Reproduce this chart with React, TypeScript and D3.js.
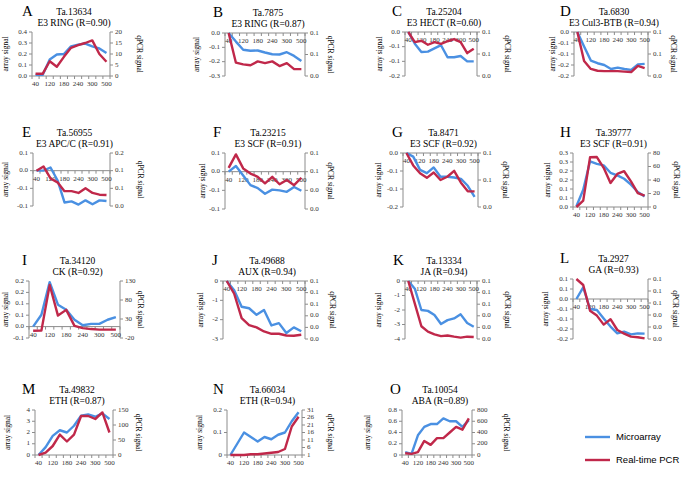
import React from 'react';
import * as d3 from 'd3';

// hours after treatment (only every other label is printed on the axis)
const categories = ['40', '80', '120', '150', '180', '210', '240', '270', '300', '400', '500'];

const letters = ['A', 'B', 'C', 'D', 'E', 'F', 'G', 'H', 'I', 'J', 'K', 'L', 'M', 'N', 'O'];
const genes = ['Ta.13634', 'Ta.7875', 'Ta.25204', 'Ta.6830', 'Ta.56955', 'Ta.23215', 'Ta.8471', 'Ta.39777',
  'Ta.34120', 'Ta.49688', 'Ta.13334', 'Ta.2927', 'Ta.49832', 'Ta.66034', 'Ta.10054'];
const subtitles = ['E3 RING (R=0.90)', 'E3 RING (R=0.87)', 'E3 HECT (R=0.60)', 'E3 Cul3-BTB (R=0.94)',
  'E3 APC/C (R=0.91)', 'E3 SCF (R=0.91)', 'E3 SCF (R=0.92)', 'E3 SCF (R=0.91)',
  'CK (R=0.92)', 'AUX (R=0.94)', 'JA (R=0.94)', 'GA (R=0.93)',
  'ETH (R=0.87)', 'ETH (R=0.94)', 'ABA (R=0.89)'];

// microarray signal (left axis)
const arrayA = [0.01, 0.01, 0.15, 0.195, 0.2, 0.27, 0.285, 0.295, 0.27, 0.25, 0.21];
const arrayB = [0, -0.06, -0.117, -0.124, -0.122, -0.136, -0.148, -0.15, -0.134, -0.16, -0.195];
const arrayC = [0, -0.04, -0.068, -0.067, -0.056, -0.045, -0.086, -0.086, -0.082, -0.1, -0.1];
const arrayD = [0, -0.066, -0.13, -0.142, -0.15, -0.168, -0.162, -0.168, -0.172, -0.147, -0.145];
const arrayE = [0, 0, 0.009, -0.027, -0.09, -0.087, -0.096, -0.084, -0.095, -0.084, -0.086];
const arrayF = [0, 0.015, -0.01, -0.036, -0.044, -0.059, -0.048, -0.05, -0.054, -0.041, -0.051];
const arrayG = [0, -0.01, -0.047, -0.056, -0.04, -0.066, -0.066, -0.068, -0.072, -0.091, -0.122];
const arrayH = [0.004, 0.096, 0.254, 0.24, 0.231, 0.19, 0.176, 0.157, 0.124, 0.083, 0.059];
const arrayI = [0, 0.052, 0.195, 0.096, 0.074, 0.03, 0.006, 0.012, 0.012, 0.03, 0.042];
const arrayJ = [0, -0.48, -1.33, -1.41, -1.75, -1.5, -2.3, -2.18, -2.69, -2.4, -2.6];
const arrayK = [0, -0.53, -2.0, -2.06, -2.35, -2.97, -2.7, -2.58, -2.3, -2.9, -3.15];
const arrayL = [0, 0.058, -0.05, -0.055, -0.097, -0.138, -0.172, -0.163, -0.177, -0.172, -0.173];
const arrayM = [0, 0.7, 1.7, 2.2, 2.0, 2.6, 3.5, 3.6, 3.4, 3.7, 3.2];
const arrayN = [0, 0.05, 0.1, 0.08, 0.06, 0.08, 0.07, 0.09, 0.1, 0.15, 0.19];
const arrayO = [0.05, 0.02, 0.35, 0.5, 0.55, 0.55, 0.65, 0.6, 0.6, 0.5, 0.62];

// real-time PCR signal (right axis)
const qpcrA = [1, 1, 6.7, 4.2, 8.7, 12.8, 14, 15, 16.2, 10, 6.5];
const qpcrB = [0.1, 0.031, 0.027, 0.025, 0.034, 0.03, 0.034, 0.023, 0.03, 0.016, 0.016];
const qpcrC = [0.1, 0.077, 0.08, 0.071, 0.077, 0.073, 0.079, 0.084, 0.077, 0.052, 0.062];
const qpcrD = [0.1, 0.034, 0.016, 0.012, 0.011, 0.011, 0.011, 0.01, 0.009, 0.023, 0.018];
const qpcrE = [0.1, 0.112, 0.078, 0.067, 0.042, 0.042, 0.037, 0.05, 0.037, 0.032, 0.031];
const qpcrF = [0.088, 0.117, 0.087, 0.076, 0.069, 0.055, 0.069, 0.053, 0.062, 0.051, 0.067];
const qpcrG = [0.1, 0.077, 0.0625, 0.054, 0.064, 0.05, 0.056, 0.067, 0.045, 0.029, 0.029];
const qpcrH = [0, 9.4, 73.6, 74, 58, 35.6, 49, 53, 38, 20.7, 16.8];
const qpcrI = [-1, -0.5, 119.5, 39, 54, 12, 6, 3.5, 2, 2, 2];
const qpcrJ = [0.1, 0.078, 0.036, 0.024, 0.02, 0.013, 0.009, 0.009, 0.006, 0.0057, 0.0074];
const qpcrK = [0.1, 0.061, 0.022, 0.0126, 0.008, 0.005, 0.006, 0.004, 0.0023, 0.004, 0.0034];
const qpcrL = [0.1, 0.09, 0.047, 0.039, 0.024, 0.033, 0.015, 0.009, 0.004, 0.003, 0.001];
const qpcrM = [0, 8, 30, 68, 45, 68, 130, 130, 120, 142, 75];
const qpcrN = [1, 1, 1, 1.5, 1.5, 2, 2.5, 3, 5, 20, 26.5];
const qpcrO = [30, 20, 50, 250, 180, 300, 300, 400, 500, 450, 650];

const arraySeries = [arrayA, arrayB, arrayC, arrayD, arrayE, arrayF, arrayG, arrayH, arrayI, arrayJ, arrayK, arrayL, arrayM, arrayN, arrayO];
const qpcrSeries = [qpcrA, qpcrB, qpcrC, qpcrD, qpcrE, qpcrF, qpcrG, qpcrH, qpcrI, qpcrJ, qpcrK, qpcrL, qpcrM, qpcrN, qpcrO];

// axis ticks: [min, max, step, decimals]  (decimals -1 = general format)
const leftTicks = [
  [0, 0.4, 0.1, 1], [-0.3, 0, 0.1, 1], [-0.15, 0, 0.05, 1], [-0.2, 0, 0.05, 1],
  [-0.1, 0.05, 0.05, 1], [-0.1, 0.05, 0.05, 1], [-0.15, 0, 0.05, 1], [0, 0.3, 0.05, 1],
  [-0.05, 0.2, 0.05, 1], [-3, 0, 1, -1], [-4, 0, 1, -1], [-0.2, 0.1, 0.05, 1],
  [0, 4, 1, -1], [0, 0.2, 0.1, -1], [0, 0.8, 0.2, -1],
];
const rightTicks = [
  [0, 20, 5, -1], [0, 0.1, 0.05, 1], [0, 0.1, 0.05, 1], [0, 0.1, 0.05, 1],
  [0, 0.15, 0.05, 1], [0, 0.12, 0.04, 1], [0, 0.1, 0.05, 1], [0, 80, 20, -1],
  [-20, 130, 50, -1], [0, 0.1, 0.02, 1], [0, 0.1, 0.02, 1], [0, 0.1, 0.02, 1],
  [0, 150, 50, -1], [1, 31, 5, -1], [0, 800, 200, -1],
];

// panel placement: plot left/right/top/bottom, letter x, left title x, right title x
const layout = [
  [32, 110, 32, 76, 22, 6, 139], [225, 305, 33, 76, 213, 197, 330], [405, 477, 32, 76, 392, 380, 507], [574, 648, 32, 76, 560, 553, 673],
  [33, 110, 153, 206, 22, 6, 140], [225, 305, 153, 209, 213, 203, 330], [403, 478, 153, 207, 392, 379, 505], [573, 648, 153, 207, 560, 548, 676],
  [29, 120, 281, 338, 22, 6, 140], [223, 305, 281, 339, 212, 201, 332], [405, 477, 281, 339, 393, 379, 507], [573, 648, 279, 339, 560, 546, 675],
  [35, 113, 410, 455, 22, 8, 138], [227, 302, 410, 455, 213, 200, 330], [402, 472, 410, 455, 390, 368, 506],
];

const BLUE = '#4a90e2';
const RED = '#c0284a';
const AXIS = '#8c8c8c';
const SERIF = '"Liberation Serif", "Times New Roman", serif';

function fmt(v: number, d: number) {
  if (d < 0) return String(+v.toFixed(6));
  const p = Math.pow(10, d);
  const r = Math.round(Math.abs(v) * p + 1e-7) / p;
  const s = r.toFixed(d);
  return v < 0 && r !== 0 ? '-' + s : s;
}

function tickValues(t: number[]) {
  const n = Math.round((t[1] - t[0]) / t[2]);
  return d3.range(n + 1).map(i => t[0] + i * t[2]);
}

const Panel = ({ i }: { i: number }) => {
  const [x0, x1, top, bottom, letterX, arrX, qX] = layout[i];
  const lt = leftTicks[i];
  const rt = rightTicks[i];
  const x = d3.scalePoint<string>().domain(categories).range([x0, x1]).padding(0.5);
  const yL = d3.scaleLinear().domain([lt[0], lt[1]]).range([bottom, top]);
  const yR = d3.scaleLinear().domain([rt[0], rt[1]]).range([bottom, top]);
  const lineL = d3.line<number>().x((_, k) => x(categories[k]) as number).y(d => yL(d));
  const lineR = d3.line<number>().x((_, k) => x(categories[k]) as number).y(d => yR(d));
  const axisY = yL(Math.max(lt[0], Math.min(lt[1], 0)));
  const band = (x1 - x0) / categories.length;
  const midY = (top + bottom) / 2;
  const cx = (x0 + x1) / 2 + 3;

  return (
    <g>
      <text x={letterX} y={top - 16} fontSize={15} fontFamily={SERIF}>{letters[i]}</text>
      <text x={cx} y={top - 17} fontSize={9.5} fontFamily={SERIF} textAnchor="middle">{genes[i]}</text>
      <text x={cx} y={top - 6} fontSize={9.5} fontFamily={SERIF} textAnchor="middle">{subtitles[i]}</text>

      <text transform={`translate(${arrX},${midY}) rotate(-90)`} fontSize={7.5} fontFamily={SERIF}
        textAnchor="middle" dominantBaseline="middle">array signal</text>
      <text transform={`translate(${qX},${midY}) rotate(90)`} fontSize={7.5} fontFamily={SERIF}
        textAnchor="middle" dominantBaseline="middle">qPCR signal</text>

      {/* left axis */}
      <line x1={x0} x2={x0} y1={top} y2={bottom} stroke={AXIS} />
      {tickValues(lt).map((v, k) => (
        <g key={'l' + k}>
          <line x1={x0 - 3} x2={x0} y1={yL(v)} y2={yL(v)} stroke={AXIS} />
          <text x={x0 - 5} y={yL(v)} fontSize={7} fontFamily={SERIF} textAnchor="end" dominantBaseline="middle" fill="#333">{fmt(v, lt[3])}</text>
        </g>
      ))}
      {/* right axis */}
      <line x1={x1} x2={x1} y1={top} y2={bottom} stroke={AXIS} />
      {tickValues(rt).map((v, k) => (
        <g key={'r' + k}>
          <line x1={x1} x2={x1 + 3} y1={yR(v)} y2={yR(v)} stroke={AXIS} />
          <text x={x1 + 5} y={yR(v)} fontSize={7} fontFamily={SERIF} dominantBaseline="middle" fill="#333">{fmt(v, rt[3])}</text>
        </g>
      ))}
      {/* category axis */}
      <line x1={x0} x2={x1} y1={axisY} y2={axisY} stroke={AXIS} />
      {d3.range(categories.length + 1).map(k => (
        <line key={'t' + k} x1={x0 + k * band} x2={x0 + k * band} y1={axisY} y2={axisY + 3} stroke={AXIS} />
      ))}
      {categories.map((c, k) => k % 2 === 0 ? (
        <text key={'c' + k} x={x(c)} y={axisY + 10} fontSize={7} fontFamily={SERIF} textAnchor="middle" fill="#333">{c}</text>
      ) : null)}

      <path d={lineL(arraySeries[i]) || ''} fill="none" stroke={BLUE} strokeWidth={2.4} strokeLinejoin="round" />
      <path d={lineR(qpcrSeries[i]) || ''} fill="none" stroke={RED} strokeWidth={2.4} strokeLinejoin="round" />
    </g>
  );
};

export default function App() {
  return (
    <svg width={685} height={477} style={{ position: 'absolute', left: 0, top: 0, background: '#fff' }}>
      {letters.map((_, i) => <Panel key={i} i={i} />)}
      <g>
        <line x1={585} x2={610} y1={437} y2={437} stroke={BLUE} strokeWidth={2.4} />
        <text x={616} y={437} fontSize={9.5} fontFamily='"Liberation Sans", Arial, sans-serif' dominantBaseline="middle">Microarray</text>
        <line x1={585} x2={610} y1={460} y2={460} stroke={RED} strokeWidth={2.4} />
        <text x={616} y={460} fontSize={9.5} fontFamily='"Liberation Sans", Arial, sans-serif' dominantBaseline="middle">Real-time PCR</text>
      </g>
    </svg>
  );
}
